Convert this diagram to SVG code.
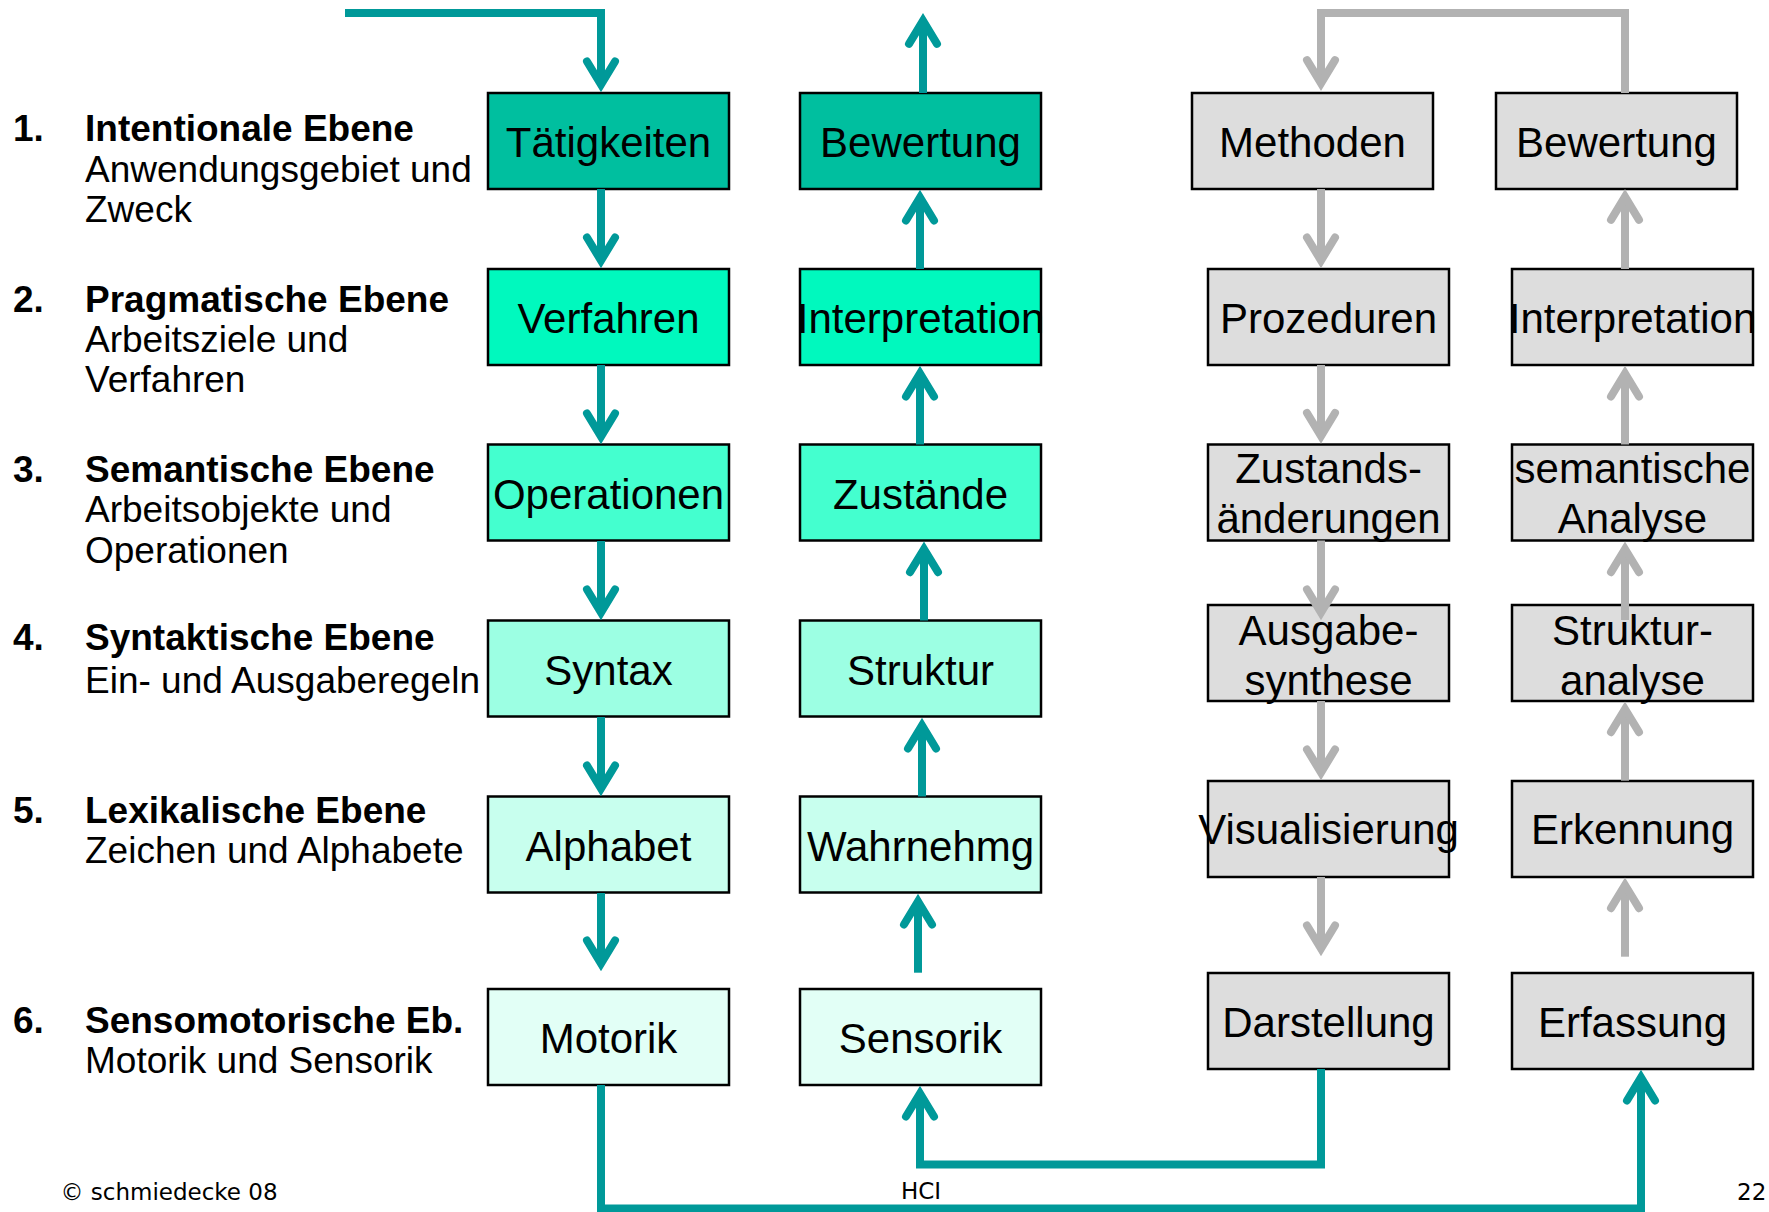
<svg xmlns="http://www.w3.org/2000/svg" width="1769" height="1212" viewBox="0 0 1769 1212">
  <defs>
    <style>
      .box { stroke: #000; stroke-width: 2.5; }
      .r1 { fill: #00BF9F; }
      .r2 { fill: #00F9BE; }
      .r3 { fill: #44FFCF; }
      .r4 { fill: #9CFFE3; }
      .r5 { fill: #C8FFEE; }
      .r6 { fill: #E2FFF6; }
      .grey { fill: #DDDDDD; }
      .lbl { font-family: "Liberation Sans", Arial, sans-serif; font-size: 42px; fill: #000; text-anchor: middle; }
      .lvl { font-family: "Liberation Sans", Arial, sans-serif; font-size: 37px; fill: #000; }
      .lvl .b { font-weight: bold; }
      .foot { font-family: "DejaVu Sans", Verdana, sans-serif; font-size: 23px; fill: #000; }
      .teal { fill: none; stroke: #009999; stroke-width: 8; marker-end: url(#headTeal); }
      .gray { fill: none; stroke: #B2B2B2; stroke-width: 8; marker-end: url(#headGray); }
    </style>
    <marker id="headTeal" markerUnits="userSpaceOnUse" orient="auto" refX="0" refY="0" markerWidth="60" markerHeight="60" overflow="visible">
      <path d="M-23,-14 L0,0 L-23,14" fill="none" stroke="#009999" stroke-width="8" stroke-linecap="round" stroke-linejoin="miter"/>
    </marker>
    <marker id="headGray" markerUnits="userSpaceOnUse" orient="auto" refX="0" refY="0" markerWidth="60" markerHeight="60" overflow="visible">
      <path d="M-23,-14 L0,0 L-23,14" fill="none" stroke="#B2B2B2" stroke-width="8" stroke-linecap="round" stroke-linejoin="miter"/>
    </marker>
  </defs>

  <rect width="1769" height="1212" fill="#fff"/>

  <!-- Level descriptions -->
  <g id="levels" class="lvl">
    <g id="level1">
      <text x="13" y="140.7" class="b">1.</text>
      <text x="85" y="140.7" class="b">Intentionale Ebene</text>
      <text x="85" y="182.3">Anwendungsgebiet und</text>
      <text x="85" y="221.7">Zweck</text>
    </g>
    <g id="level2">
      <text x="13" y="311.7" class="b">2.</text>
      <text x="85" y="311.7" class="b">Pragmatische Ebene</text>
      <text x="85" y="352.3">Arbeitsziele und</text>
      <text x="85" y="391.7">Verfahren</text>
    </g>
    <g id="level3">
      <text x="13" y="481.7" class="b">3.</text>
      <text x="85" y="481.7" class="b">Semantische Ebene</text>
      <text x="85" y="522.3">Arbeitsobjekte und</text>
      <text x="85" y="563.3">Operationen</text>
    </g>
    <g id="level4">
      <text x="13" y="650" class="b">4.</text>
      <text x="85" y="650" class="b">Syntaktische Ebene</text>
      <text x="85" y="692.7">Ein- und Ausgaberegeln</text>
    </g>
    <g id="level5">
      <text x="13" y="822.7" class="b">5.</text>
      <text x="85" y="822.7" class="b">Lexikalische Ebene</text>
      <text x="85" y="863.3">Zeichen und Alphabete</text>
    </g>
    <g id="level6">
      <text x="13" y="1033.3" class="b">6.</text>
      <text x="85" y="1033.3" class="b">Sensomotorische Eb.</text>
      <text x="85" y="1073.3">Motorik und Sensorik</text>
    </g>
  </g>

  <!-- Column 1: user action chain -->
  <g id="taetigkeiten"><rect class="box r1" x="488" y="93" width="241" height="96"/><text class="lbl" x="608.5" y="157">Tätigkeiten</text></g>
  <g id="verfahren"><rect class="box r2" x="488" y="269" width="241" height="96"/><text class="lbl" x="608.5" y="333">Verfahren</text></g>
  <g id="operationen"><rect class="box r3" x="488" y="444.5" width="241" height="96"/><text class="lbl" x="608.5" y="508.5">Operationen</text></g>
  <g id="syntax"><rect class="box r4" x="488" y="620.5" width="241" height="96"/><text class="lbl" x="608.5" y="684.5">Syntax</text></g>
  <g id="alphabet"><rect class="box r5" x="488" y="796.5" width="241" height="96"/><text class="lbl" x="608.5" y="860.5">Alphabet</text></g>
  <g id="motorik"><rect class="box r6" x="488" y="989" width="241" height="96"/><text class="lbl" x="608.5" y="1053">Motorik</text></g>

  <!-- Column 2: user perception chain -->
  <g id="bewertung-user"><rect class="box r1" x="800" y="93" width="241" height="96"/><text class="lbl" x="920.5" y="157">Bewertung</text></g>
  <g id="interpretation-user"><rect class="box r2" x="800" y="269" width="241" height="96"/><text class="lbl" x="920.5" y="333">Interpretation</text></g>
  <g id="zustaende"><rect class="box r3" x="800" y="444.5" width="241" height="96"/><text class="lbl" x="920.5" y="508.5">Zustände</text></g>
  <g id="struktur"><rect class="box r4" x="800" y="620.5" width="241" height="96"/><text class="lbl" x="920.5" y="684.5">Struktur</text></g>
  <g id="wahrnehmg"><rect class="box r5" x="800" y="796.5" width="241" height="96"/><text class="lbl" x="920.5" y="860.5">Wahrnehmg</text></g>
  <g id="sensorik"><rect class="box r6" x="800" y="989" width="241" height="96"/><text class="lbl" x="920.5" y="1053">Sensorik</text></g>

  <!-- Column 3: system output chain -->
  <g id="methoden"><rect class="box grey" x="1192" y="93" width="241" height="96"/><text class="lbl" x="1312.5" y="157">Methoden</text></g>
  <g id="prozeduren"><rect class="box grey" x="1208" y="269" width="241" height="96"/><text class="lbl" x="1328.5" y="333">Prozeduren</text></g>
  <g id="zustandsaenderungen"><rect class="box grey" x="1208" y="444.5" width="241" height="96"/><text class="lbl" x="1328.5" y="483.3">Zustands-</text><text class="lbl" x="1328.5" y="533.3">änderungen</text></g>
  <g id="ausgabesynthese"><rect class="box grey" x="1208" y="605" width="241" height="96"/><text class="lbl" x="1328.5" y="645">Ausgabe-</text><text class="lbl" x="1328.5" y="695">synthese</text></g>
  <g id="visualisierung"><rect class="box grey" x="1208" y="781" width="241" height="96"/><text class="lbl" x="1328.5" y="843.5">Visualisierung</text></g>
  <g id="darstellung"><rect class="box grey" x="1208" y="973" width="241" height="96"/><text class="lbl" x="1328.5" y="1037">Darstellung</text></g>

  <!-- Column 4: system input chain -->
  <g id="bewertung-system"><rect class="box grey" x="1496" y="93" width="241" height="96"/><text class="lbl" x="1616.5" y="157">Bewertung</text></g>
  <g id="interpretation-system"><rect class="box grey" x="1512" y="269" width="241" height="96"/><text class="lbl" x="1632.5" y="333">Interpretation</text></g>
  <g id="semantische-analyse"><rect class="box grey" x="1512" y="444.5" width="241" height="96"/><text class="lbl" x="1632.5" y="483.3">semantische</text><text class="lbl" x="1632.5" y="533.3">Analyse</text></g>
  <g id="strukturanalyse"><rect class="box grey" x="1512" y="605" width="241" height="96"/><text class="lbl" x="1632.5" y="645">Struktur-</text><text class="lbl" x="1632.5" y="695">analyse</text></g>
  <g id="erkennung"><rect class="box grey" x="1512" y="781" width="241" height="96"/><text class="lbl" x="1632.5" y="843.5">Erkennung</text></g>
  <g id="erfassung"><rect class="box grey" x="1512" y="973" width="241" height="96"/><text class="lbl" x="1632.5" y="1037">Erfassung</text></g>

  <!-- Connectors -->
  <g id="connectors">
    <!-- user action chain, downwards -->
    <path class="teal" d="M345,13 H601 V84.5"/>
    <path class="teal" d="M601,189 V260.5"/>
    <path class="teal" d="M601,365 V436.5"/>
    <path class="teal" d="M601,541 V612.5"/>
    <path class="teal" d="M601,717 V788.5"/>
    <path class="teal" d="M601,893 V963.5"/>
    <path class="teal" d="M601,1085 V1208.5 H1641 V1077.5"/>
    <!-- user perception chain, upwards -->
    <path class="teal" d="M923,93 V20.8"/>
    <path class="teal" d="M920,269 V197.5"/>
    <path class="teal" d="M920,444.5 V373.5"/>
    <path class="teal" d="M924,620.5 V549.2"/>
    <path class="teal" d="M922,796.5 V725.5"/>
    <path class="teal" d="M918,972.7 V901.5"/>
    <path class="teal" d="M1321,1069 V1164.5 H920 V1093.5"/>
    <!-- system output chain, downwards -->
    <path class="gray" d="M1625,93 V13 H1321 V83.2"/>
    <path class="gray" d="M1321,189 V260.5"/>
    <path class="gray" d="M1321,365 V436"/>
    <path class="gray" d="M1321,540.5 V612.5"/>
    <path class="gray" d="M1321,701 V772.5"/>
    <path class="gray" d="M1321,877 V948.5"/>
    <!-- system input chain, upwards -->
    <path class="gray" d="M1625,269 V196.8"/>
    <path class="gray" d="M1625,444.5 V373.5"/>
    <path class="gray" d="M1625,620 V549.2"/>
    <path class="gray" d="M1625,780.7 V709.2"/>
    <path class="gray" d="M1625,956.7 V885.2"/>
  </g>

  <!-- Footer -->
  <g id="footer" class="foot">
    <text x="60.5" y="1200">© schmiedecke 08</text>
    <text x="921" y="1199" text-anchor="middle">HCI</text>
    <text x="1737" y="1200">22</text>
  </g>
</svg>
